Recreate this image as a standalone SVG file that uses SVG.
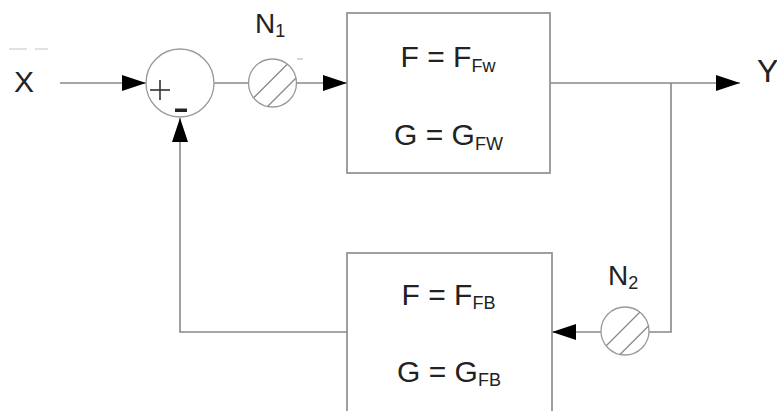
<svg xmlns="http://www.w3.org/2000/svg" width="777" height="411" viewBox="0 0 777 411">
<style>
.ln{fill:none;stroke:#888;stroke-width:1.6}
.bx{fill:#fff;stroke:#888;stroke-width:1.6}
.ci{fill:#fff;stroke:#999;stroke-width:1.3}
.ht{stroke:#888;stroke-width:1.3}
.t{font-family:"Liberation Sans",Arial,sans-serif;fill:#222}
.m{font-size:30px}
.s{font-size:18px}
</style>
<defs>
<marker id="ah" markerUnits="userSpaceOnUse" markerWidth="24" markerHeight="16" refX="24" refY="8" orient="auto">
<path d="M0,0 L24,8 L0,16 z" fill="#000"/>
</marker>
</defs>
<rect width="777" height="411" fill="#fff"/>
<g id="artifacts">
<line x1="9" y1="49" x2="27" y2="49" stroke="#e2e2e2" stroke-width="2"/>
<line x1="35" y1="49" x2="48" y2="49" stroke="#e2e2e2" stroke-width="2"/>
</g>
<g id="connectors">
<line class="ln" x1="60" y1="83" x2="146" y2="83" marker-end="url(#ah)"/>
<line class="ln" x1="214" y1="83" x2="248" y2="83"/>
<line class="ln" x1="297" y1="83" x2="347" y2="83" marker-end="url(#ah)"/>
<line class="ln" x1="550" y1="83" x2="740" y2="83" marker-end="url(#ah)"/>
<polyline class="ln" points="671,83 671,332 649,332"/>
<line class="ln" x1="601" y1="332" x2="552" y2="332" marker-end="url(#ah)"/>
<polyline class="ln" points="347,332 180,332 180,118" marker-end="url(#ah)"/>
</g>
<g id="input-x">
<text class="t m" x="14" y="92">X</text>
</g>
<g id="output-y">
<text class="t" x="757" y="82" font-size="32">Y</text>
</g>
<g id="sum">
<circle class="ci" cx="180" cy="83" r="34"/>
<line x1="150" y1="90" x2="170" y2="90" stroke="#333" stroke-width="1.6"/>
<line x1="160" y1="80" x2="160" y2="100" stroke="#333" stroke-width="1.6"/>
<rect x="175" y="108.5" width="12" height="3.5" fill="#222"/>
</g>
<g id="n1">
<circle class="ci" cx="272.5" cy="83" r="24"/>
<line class="ht" x1="254" y1="97.5" x2="287.5" y2="64"/>
<line class="ht" x1="267.5" y1="106.5" x2="296" y2="78"/>
<text class="t" x="255" y="33" font-size="28">N<tspan font-size="18" dy="4">1</tspan></text>
<line x1="297" y1="59" x2="303" y2="59" stroke="#bbb" stroke-width="1.2"/>
</g>
<g id="forward">
<rect class="bx" x="347" y="13" width="203" height="160"/>
<text class="t m" x="448" y="67" text-anchor="middle">F = F<tspan class="s" dy="5">Fw</tspan></text>
<text class="t m" x="448.5" y="145" text-anchor="middle">G = G<tspan class="s" dy="5">FW</tspan></text>
</g>
<g id="n2">
<circle class="ci" cx="625" cy="331" r="24"/>
<line class="ht" x1="606.5" y1="345.5" x2="640" y2="312"/>
<line class="ht" x1="620" y1="354.5" x2="648.5" y2="326"/>
<text class="t" x="608" y="285" font-size="28">N<tspan font-size="18" dy="4">2</tspan></text>
</g>
<g id="feedback">
<rect class="bx" x="347" y="253" width="205" height="175"/>
<text class="t m" x="448.5" y="305" text-anchor="middle">F = F<tspan class="s" dy="4">FB</tspan></text>
<text class="t m" x="449" y="382" text-anchor="middle">G = G<tspan class="s" dy="4">FB</tspan></text>
</g>
</svg>
